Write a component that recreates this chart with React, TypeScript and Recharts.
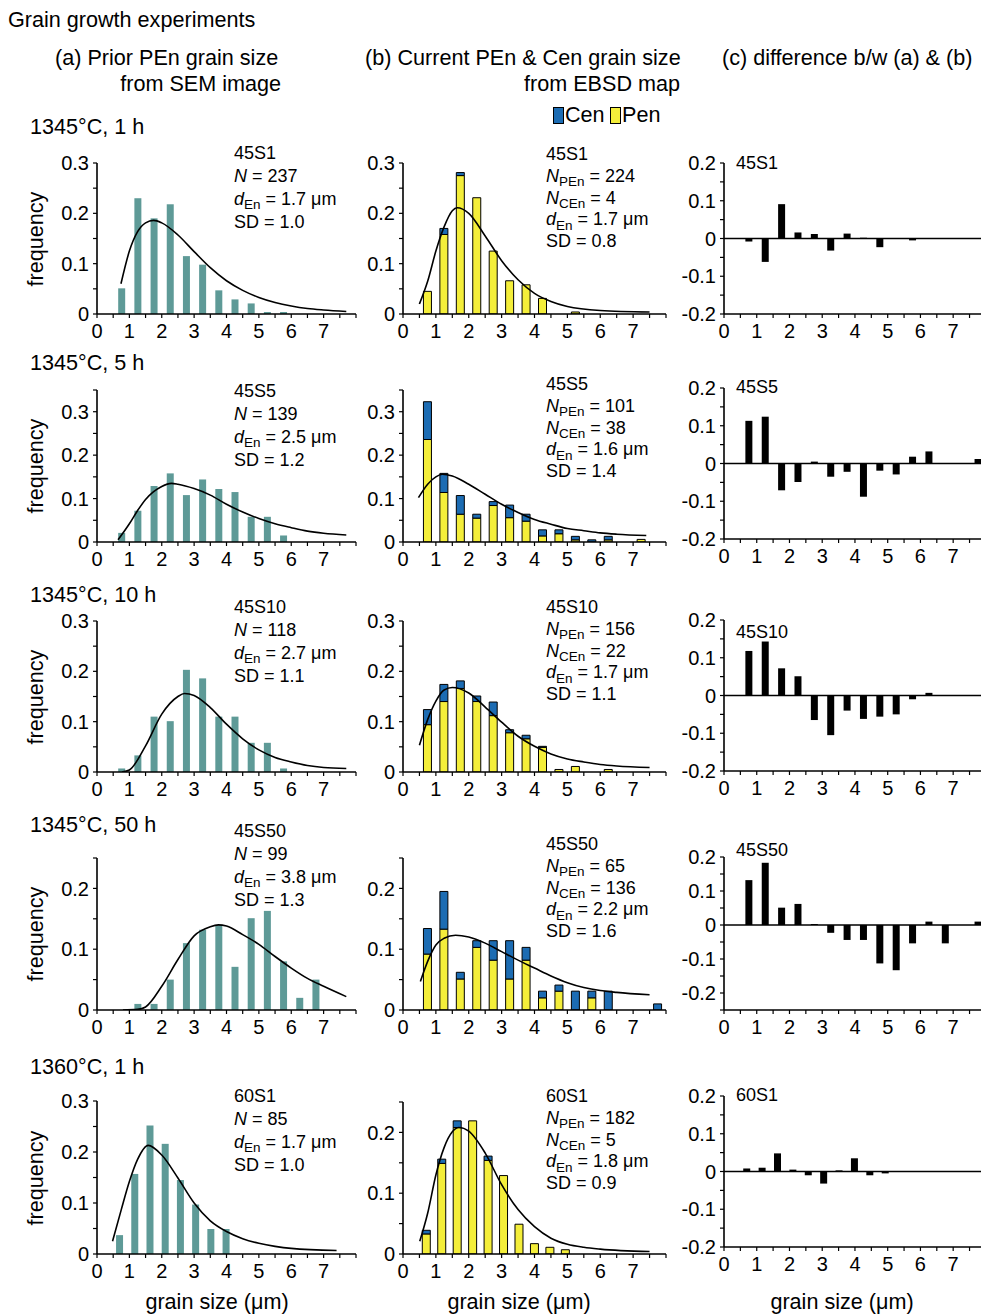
import React from 'react';
import { ComposedChart, LineChart, Bar, Line, XAxis, YAxis, ReferenceLine } from 'recharts';

const FONT = '"Liberation Sans", Arial, Helvetica, sans-serif';
const TEAL = '#5e9a97';
const YELLOW = '#f4ee3a';
const BLUE = '#1c6cb3';

// bin centres (µm)
const bins = [0.75, 1.25, 1.75, 2.25, 2.75, 3.25, 3.75, 4.25, 4.75, 5.25, 5.75, 6.25, 6.75, 7.25, 7.75];
const bins60 = [0.7, 1.17, 1.64, 2.11, 2.58, 3.05, 3.52, 3.99, 4.46, 4.93];

// 45S1
const s1Sem = [0.051, 0.23, 0.19, 0.218, 0.115, 0.098, 0.047, 0.029, 0.021, 0.004, 0.004];
const s1Pen = [0.045, 0.158, 0.275, 0.231, 0.125, 0.066, 0.058, 0.031, 0, 0.004];
const s1Cen = [0, 0.012, 0.006, 0, 0, 0, 0, 0, 0, 0];
const s1Diff = [-0.008, -0.062, 0.091, 0.016, 0.012, -0.032, 0.013, 0.002, -0.023, 0.001, -0.005];
const s1SemFitX = [0.74, 1, 1.25, 1.5, 1.75, 2, 2.5, 3, 3.5, 4, 4.5, 5, 5.5, 6, 6.5, 7, 7.7];
const s1SemFitY = [0.06, 0.125, 0.163, 0.181, 0.186, 0.181, 0.157, 0.124, 0.092, 0.066, 0.047, 0.033, 0.023, 0.016, 0.011, 0.008, 0.005];
const s1EbsdFitX = [0.5, 0.75, 1, 1.25, 1.5, 1.65, 2, 2.5, 3, 3.5, 4, 4.5, 5, 6, 7.5];
const s1EbsdFitY = [0.02, 0.065, 0.125, 0.173, 0.205, 0.211, 0.2, 0.155, 0.106, 0.068, 0.041, 0.025, 0.015, 0.007, 0.004];

// 45S5
const s5Sem = [0.021, 0.072, 0.129, 0.158, 0.108, 0.144, 0.122, 0.115, 0.058, 0.058, 0.015];
const s5Pen = [0.236, 0.114, 0.064, 0.055, 0.084, 0.056, 0.048, 0.014, 0.019, 0.005, 0, 0.005, 0, 0.006];
const s5Cen = [0.087, 0.044, 0.043, 0.009, 0.009, 0.029, 0.016, 0.014, 0.009, 0.008, 0.005, 0.008, 0, 0];
const s5Diff = [0.113, 0.124, -0.071, -0.049, 0.005, -0.035, -0.022, -0.088, -0.019, -0.029, 0.018, 0.032, 0, 0, 0.012];
const s5SemFitX = [0.65, 1, 1.25, 1.5, 2, 2.3, 2.5, 3, 3.5, 4, 4.5, 5, 5.5, 6, 6.5, 7, 7.7];
const s5SemFitY = [0.005, 0.042, 0.072, 0.098, 0.128, 0.135, 0.133, 0.123, 0.108, 0.087, 0.069, 0.054, 0.042, 0.033, 0.025, 0.02, 0.016];
const s5EbsdFitX = [0.47, 0.75, 1, 1.2, 1.5, 2, 2.5, 3, 3.5, 4, 4.5, 5, 5.5, 6, 6.5, 7.4];
const s5EbsdFitY = [0.102, 0.133, 0.15, 0.156, 0.152, 0.133, 0.11, 0.087, 0.068, 0.052, 0.041, 0.031, 0.026, 0.021, 0.018, 0.015];

// 45S10
const s10Sem = [0.007, 0.033, 0.11, 0.101, 0.203, 0.186, 0.11, 0.11, 0.058, 0.058, 0.007];
const s10Pen = [0.094, 0.14, 0.166, 0.14, 0.112, 0.078, 0.066, 0.049, 0.005, 0.011, 0, 0.005];
const s10Cen = [0.03, 0.034, 0.015, 0.011, 0.027, 0.006, 0.007, 0.002, 0, 0, 0, 0];
const s10Diff = [0.118, 0.143, 0.072, 0.051, -0.065, -0.105, -0.04, -0.062, -0.056, -0.05, -0.01, 0.007];
const s10SemFitX = [0.77, 1, 1.5, 2, 2.5, 2.7, 3, 3.5, 4, 4.5, 5, 5.5, 6, 6.5, 7, 7.7];
const s10SemFitY = [0, 0.004, 0.052, 0.115, 0.15, 0.156, 0.152, 0.128, 0.095, 0.066, 0.044, 0.029, 0.02, 0.013, 0.009, 0.007];
const s10EbsdFitX = [0.5, 0.75, 1, 1.25, 1.5, 2, 2.5, 3, 3.5, 4, 4.5, 5, 5.5, 6, 6.5, 7.5];
const s10EbsdFitY = [0.053, 0.104, 0.141, 0.163, 0.168, 0.157, 0.129, 0.099, 0.071, 0.051, 0.036, 0.026, 0.02, 0.015, 0.012, 0.009];

// 45S50
const s50Sem = [0, 0.01, 0.01, 0.05, 0.11, 0.132, 0.14, 0.071, 0.151, 0.163, 0.08, 0.02, 0.05];
const s50Pen = [0.092, 0.133, 0.051, 0.103, 0.082, 0.051, 0.082, 0.02, 0.031, 0, 0.02, 0, 0, 0, 0];
const s50Cen = [0.042, 0.062, 0.011, 0.011, 0.032, 0.063, 0.021, 0.011, 0.01, 0.031, 0.011, 0.031, 0, 0, 0.01];
const s50Diff = [0.132, 0.183, 0.051, 0.062, 0.003, -0.023, -0.044, -0.044, -0.113, -0.133, -0.054, 0.01, -0.054, 0, 0.01];
const s50SemFitX = [0.8, 1.25, 1.5, 2, 2.5, 3, 3.5, 3.75, 4, 4.5, 5, 5.5, 6, 6.5, 7, 7.7];
const s50SemFitY = [0, 0.001, 0.005, 0.039, 0.083, 0.122, 0.137, 0.14, 0.138, 0.124, 0.108, 0.088, 0.069, 0.052, 0.039, 0.022];
const s50EbsdFitX = [0.53, 0.75, 1, 1.25, 1.6, 2, 2.5, 3, 3.5, 4, 4.5, 5, 5.5, 6, 6.5, 7.5];
const s50EbsdFitY = [0.047, 0.08, 0.107, 0.118, 0.123, 0.12, 0.11, 0.096, 0.082, 0.069, 0.056, 0.045, 0.037, 0.032, 0.029, 0.025];

// 60S1
const s60Sem = [0.037, 0.157, 0.252, 0.216, 0.145, 0.097, 0.049, 0.049];
const s60Pen = [0.033, 0.149, 0.208, 0.219, 0.154, 0.129, 0.049, 0.017, 0.011, 0.007];
const s60Cen = [0.006, 0.007, 0.011, 0, 0.007, 0, 0, 0, 0, 0];
const s60Diff = [0.008, 0.01, 0.048, 0.005, -0.01, -0.032, 0.003, 0.035, -0.01, -0.005];
const s60SemFitX = [0.48, 0.75, 1, 1.25, 1.58, 2, 2.5, 3, 3.5, 4, 4.5, 5, 5.5, 6, 7.4];
const s60SemFitY = [0.025, 0.087, 0.142, 0.185, 0.213, 0.194, 0.149, 0.1, 0.065, 0.044, 0.03, 0.021, 0.015, 0.011, 0.007];
const s60EbsdFitX = [0.51, 0.75, 1, 1.25, 1.5, 1.7, 2, 2.5, 3, 3.5, 4, 4.5, 5, 5.5, 6, 7.5];
const s60EbsdFitY = [0.021, 0.067, 0.13, 0.175, 0.201, 0.208, 0.202, 0.166, 0.114, 0.073, 0.045, 0.026, 0.016, 0.011, 0.008, 0.004];

// labels
const samples = ['45S1', '45S5', '45S10', '45S50', '60S1'];
const rowTitles = ['1345°C, 1 h', '1345°C, 5 h', '1345°C, 10 h', '1345°C, 50 h', '1360°C, 1 h'];
const semN = ['237', '139', '118', '99', '85'];
const semD = ['1.7', '2.5', '2.7', '3.8', '1.7'];
const semSD = ['1.0', '1.2', '1.1', '1.3', '1.0'];
const ebsdNPEn = ['224', '101', '156', '65', '182'];
const ebsdNCEn = ['4', '38', '22', '136', '5'];
const ebsdD = ['1.7', '1.6', '1.7', '2.2', '1.8'];
const ebsdSD = ['0.8', '1.4', '1.1', '1.6', '0.9'];

// ticks
const xTicks8 = [0, 0.5, 1, 1.5, 2, 2.5, 3, 3.5, 4, 4.5, 5, 5.5, 6, 6.5, 7, 7.5, 8];
const yTicks30 = [0, 0.05, 0.1, 0.15, 0.2, 0.25, 0.3];
const yTicks35 = [0, 0.05, 0.1, 0.15, 0.2, 0.25, 0.3, 0.35];
const yTicks25 = [0, 0.05, 0.1, 0.15, 0.2, 0.25];
const yTicksDiff = [-0.2, -0.15, -0.1, -0.05, 0, 0.05, 0.1, 0.15, 0.2];
const yTicksDiff25 = [-0.25, -0.2, -0.15, -0.1, -0.05, 0, 0.05, 0.1, 0.15, 0.2];

// layout
const colA = { left: 97, w: 259, xMax: 8 };
const colB = { left: 403, w: 263, xMax: 8 };
const colC = { left: 724, w: 257, xMax: 7.85 };
const rowTopAB = [163, 390, 621, 858, 1101];
const rowHAB = [151, 152, 151, 152, 153];
const rowTopC = [163, 388, 620, 857, 1096];
const rowHC = [151, 151, 151, 153, 151];

const YW = 46;
const XH = 32;
const MT = 16;
const MR = 10;

const toBars = (xs: number[], ys: number[]) => ys.map((v, i) => ({ x: xs[i], v }));
const toStack = (xs: number[], pen: number[], cen: number[]) =>
  pen.map((p, i) => ({ x: xs[i], pen: p, cen: cen[i] }));
const toFit = (xs: number[], ys: number[]) => xs.map((x, i) => ({ x, y: ys[i] }));

const yFmt = (v: number) => {
  const r = Math.round(v * 100);
  if (r % 10 !== 0) return '';
  return r === 0 ? '0' : v.toFixed(1);
};
const xFmt = (v: number) => (Number.isInteger(v) && v < 8 ? String(v) : '');

type PanelProps = {
  left: number;
  top: number;
  w: number;
  h: number;
  xMax: number;
  yDomain: [number, number];
  yTicks: number[];
  data: any[];
  fit?: { x: number; y: number }[];
  zero?: boolean;
  children: React.ReactNode;
};

function Panel(p: PanelProps) {
  const width = YW + p.w + MR;
  const height = MT + p.h + XH;
  const axisLine = { stroke: '#000', strokeWidth: 1.6 };
  const tick = { fill: '#000', fontSize: 20, fontFamily: FONT };
  return (
    <div style={{ position: 'absolute', left: p.left - YW, top: p.top - MT, width, height }}>
      <ComposedChart width={width} height={height} data={p.data} margin={{ top: MT, right: MR, bottom: 0, left: 0 }}>
        <XAxis
          dataKey="x"
          type="number"
          domain={[0, p.xMax]}
          ticks={xTicks8}
          interval={0}
          allowDataOverflow
          tickFormatter={xFmt}
          height={XH}
          axisLine={axisLine}
          tickLine={{ stroke: '#000', strokeWidth: 1.2 }}
          tickSize={4}
          tickMargin={6}
          tick={tick}
        />
        <YAxis
          type="number"
          domain={p.yDomain}
          ticks={p.yTicks}
          interval={0}
          allowDataOverflow
          tickFormatter={yFmt}
          width={YW}
          axisLine={axisLine}
          tickLine={{ stroke: '#000', strokeWidth: 1.2 }}
          tickSize={4}
          tickMargin={4}
          tick={tick}
        />
        {p.zero && <ReferenceLine y={0} stroke="#000" strokeWidth={1.6} />}
        {p.children}
      </ComposedChart>
      {p.fit && (
        <div style={{ position: 'absolute', left: 0, top: 0 }}>
          <LineChart width={width} height={height} data={p.fit} margin={{ top: MT, right: MR, bottom: XH, left: YW }}>
            <XAxis dataKey="x" type="number" domain={[0, p.xMax]} hide allowDataOverflow />
            <YAxis type="number" domain={p.yDomain} hide allowDataOverflow />
            <Line dataKey="y" type="monotone" stroke="#000" strokeWidth={1.6} dot={false} isAnimationActive={false} />
          </LineChart>
        </div>
      )}
    </div>
  );
}

function Txt({ x, y, size, children, right, style }: any) {
  const pos: any = right ? { right: 982 - x } : { left: x };
  return (
    <div
      style={{
        position: 'absolute',
        top: y - size * 0.59,
        ...pos,
        fontSize: size,
        lineHeight: `${size * 1.2}px`,
        whiteSpace: 'nowrap',
        ...style,
      }}
    >
      {children}
    </div>
  );
}

const Sub = ({ children }: any) => (
  <span style={{ fontSize: '0.75em', position: 'relative', top: '0.3em' }}>{children}</span>
);

const rows = [
  { sem: s1Sem, pen: s1Pen, cen: s1Cen, diff: s1Diff, x: bins, semFit: toFit(s1SemFitX, s1SemFitY), ebsdFit: toFit(s1EbsdFitX, s1EbsdFitY), yA: yTicks30, yB: yTicks30, yC: yTicksDiff },
  { sem: s5Sem, pen: s5Pen, cen: s5Cen, diff: s5Diff, x: bins, semFit: toFit(s5SemFitX, s5SemFitY), ebsdFit: toFit(s5EbsdFitX, s5EbsdFitY), yA: yTicks35, yB: yTicks35, yC: yTicksDiff },
  { sem: s10Sem, pen: s10Pen, cen: s10Cen, diff: s10Diff, x: bins, semFit: toFit(s10SemFitX, s10SemFitY), ebsdFit: toFit(s10EbsdFitX, s10EbsdFitY), yA: yTicks30, yB: yTicks30, yC: yTicksDiff },
  { sem: s50Sem, pen: s50Pen, cen: s50Cen, diff: s50Diff, x: bins, semFit: toFit(s50SemFitX, s50SemFitY), ebsdFit: toFit(s50EbsdFitX, s50EbsdFitY), yA: yTicks25, yB: yTicks25, yC: yTicksDiff25 },
  { sem: s60Sem, pen: s60Pen, cen: s60Cen, diff: s60Diff, x: bins60, semFit: toFit(s60SemFitX, s60SemFitY), ebsdFit: toFit(s60EbsdFitX, s60EbsdFitY), yA: yTicks30, yB: yTicks25, yC: yTicksDiff },
];

const titleY = [127, 363, 595, 825, 1067];
const statsAY = [154, 392, 608, 832, 1097];
const statsBY = [155, 385, 608, 845, 1097];
const labelCY = [164, 388, 633, 851, 1096];

export default function App() {
  const S = 18;
  const H = 21.6;
  return (
    <div
      style={{
        position: 'absolute',
        left: 0,
        top: 0,
        width: 982,
        height: 1314,
        overflow: 'hidden',
        background: '#fff',
        fontFamily: FONT,
        color: '#000',
      }}
    >
      <Txt x={8} y={20} size={H}>Grain growth experiments</Txt>
      <Txt x={55} y={58} size={H}>(a) Prior PEn grain size</Txt>
      <Txt x={281} y={84} size={H} right>from SEM image</Txt>
      <Txt x={365} y={58} size={H}>(b) Current PEn &amp; Cen grain size</Txt>
      <Txt x={680} y={84} size={H} right>from EBSD map</Txt>
      <Txt x={722} y={58} size={H}>(c) difference b/w (a) &amp; (b)</Txt>

      {/* legend */}
      <div style={{ position: 'absolute', left: 553, top: 107, width: 9, height: 15, background: BLUE, border: '1px solid #000' }} />
      <Txt x={565} y={115} size={H}>Cen</Txt>
      <div style={{ position: 'absolute', left: 610, top: 107, width: 9, height: 15, background: YELLOW, border: '1px solid #000' }} />
      <Txt x={622} y={115} size={H}>Pen</Txt>

      {rows.map((r, i) => {
        const yMaxA = r.yA[r.yA.length - 1];
        const yMaxB = r.yB[r.yB.length - 1];
        const yMinC = r.yC[0];
        const hB = i === 4 ? 152 : rowHAB[i];
        const topB = i === 4 ? 1102 : rowTopAB[i];
        const midY = rowTopAB[i] + rowHAB[i] / 2;
        return (
          <React.Fragment key={i}>
            <Txt x={30} y={titleY[i]} size={H}>{rowTitles[i]}</Txt>
            <div
              style={{
                position: 'absolute',
                left: 36,
                top: midY,
                transform: 'translate(-50%, -50%) rotate(-90deg)',
                fontSize: H,
                lineHeight: `${H * 1.2}px`,
                whiteSpace: 'nowrap',
              }}
            >
              frequency
            </div>

            <Panel left={colA.left} top={rowTopAB[i]} w={colA.w} h={rowHAB[i]} xMax={colA.xMax} yDomain={[0, yMaxA]} yTicks={r.yA} data={toBars(r.x, r.sem)} fit={r.semFit}>
              <Bar dataKey="v" fill={TEAL} barSize={7} isAnimationActive={false} />
            </Panel>

            <Panel left={colB.left} top={topB} w={colB.w} h={hB} xMax={colB.xMax} yDomain={[0, yMaxB]} yTicks={r.yB} data={toStack(r.x, r.pen, r.cen)} fit={r.ebsdFit}>
              <Bar dataKey="pen" stackId="s" fill={YELLOW} stroke="#000" strokeWidth={1} barSize={8} isAnimationActive={false} />
              <Bar dataKey="cen" stackId="s" fill={BLUE} stroke="#000" strokeWidth={1} barSize={8} isAnimationActive={false} />
            </Panel>

            <Panel left={colC.left} top={rowTopC[i]} w={colC.w} h={rowHC[i]} xMax={colC.xMax} yDomain={[yMinC, 0.2]} yTicks={r.yC} data={toBars(r.x, r.diff)} zero>
              <Bar dataKey="v" fill="#000" barSize={7} isAnimationActive={false} />
            </Panel>

            {/* stats, column a */}
            <Txt x={234} y={statsAY[i]} size={S}>{samples[i]}</Txt>
            <Txt x={234} y={statsAY[i] + 23} size={S}><i>N</i> = {semN[i]}</Txt>
            <Txt x={234} y={statsAY[i] + 46} size={S}><i>d</i><Sub>En</Sub> = {semD[i]} μm</Txt>
            <Txt x={234} y={statsAY[i] + 69} size={S}>SD = {semSD[i]}</Txt>

            {/* stats, column b */}
            <Txt x={546} y={statsBY[i]} size={S}>{samples[i]}</Txt>
            <Txt x={546} y={statsBY[i] + 21.7} size={S}><i>N</i><Sub>PEn</Sub> = {ebsdNPEn[i]}</Txt>
            <Txt x={546} y={statsBY[i] + 43.4} size={S}><i>N</i><Sub>CEn</Sub> = {ebsdNCEn[i]}</Txt>
            <Txt x={546} y={statsBY[i] + 65.1} size={S}><i>d</i><Sub>En</Sub> = {ebsdD[i]} μm</Txt>
            <Txt x={546} y={statsBY[i] + 86.8} size={S}>SD = {ebsdSD[i]}</Txt>

            {/* sample, column c */}
            <Txt x={736} y={labelCY[i]} size={S}>{samples[i]}</Txt>
          </React.Fragment>
        );
      })}

      <Txt x={217} y={1302} size={H} style={{ transform: 'translateX(-50%)' }}>grain size (μm)</Txt>
      <Txt x={519} y={1302} size={H} style={{ transform: 'translateX(-50%)' }}>grain size (μm)</Txt>
      <Txt x={842} y={1302} size={H} style={{ transform: 'translateX(-50%)' }}>grain size (μm)</Txt>
    </div>
  );
}
